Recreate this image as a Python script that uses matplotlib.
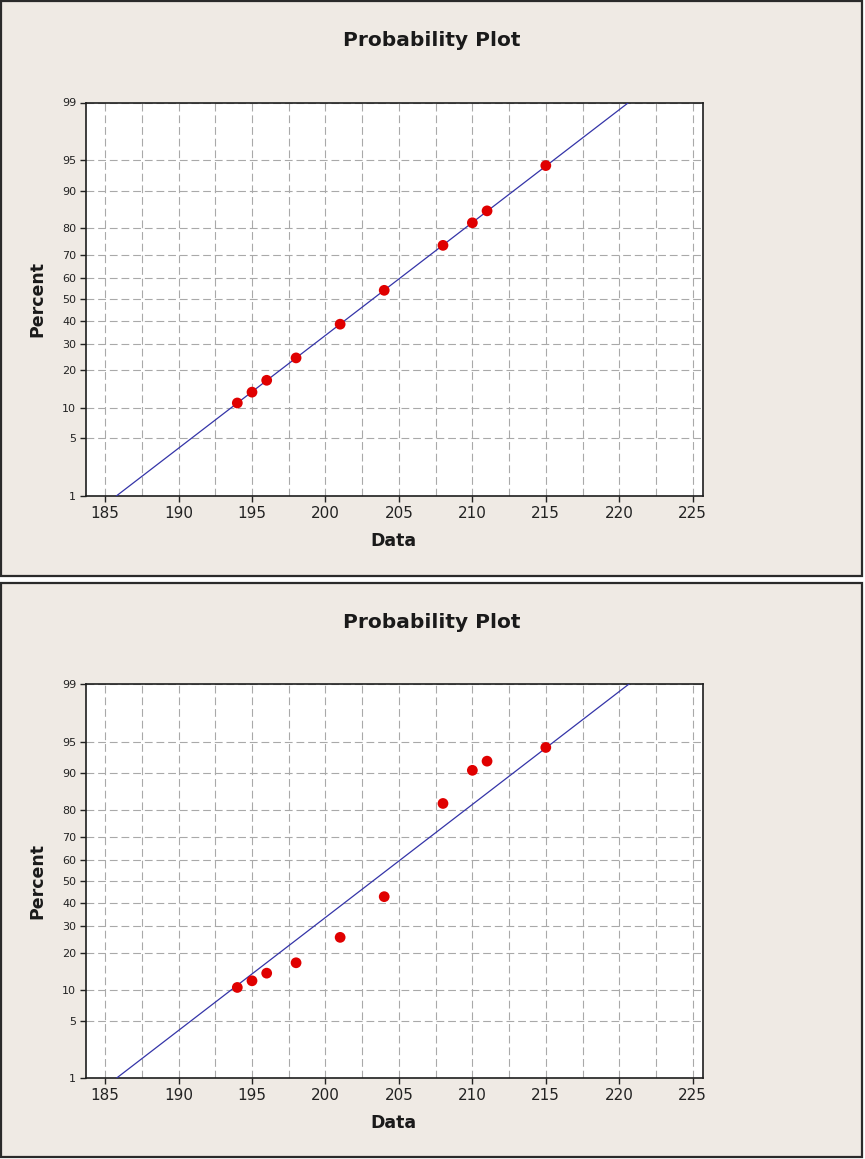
import numpy as np
import matplotlib
matplotlib.use("Agg")
import matplotlib.pyplot as plt
from matplotlib.patches import Rectangle
from matplotlib.ticker import FixedLocator, MultipleLocator
from statistics import NormalDist

# ---- data ----
data_x = [194, 195, 196, 198, 201, 204, 208, 210, 211, 215]
pct_top = [11.0, 13.6, 16.9, 24.4, 38.4, 54.2, 73.8, 81.7, 85.2, 94.3]
pct_bottom = [10.5, 12.0, 13.9, 16.8, 25.4, 42.8, 82.1, 90.5, 92.2, 94.3]
y_ticks = [1, 5, 10, 20, 30, 40, 50, 60, 70, 80, 90, 95, 99]
x_ticks = [185, 190, 195, 200, 205, 210, 215, 220, 225]
title = "Probability Plot"
xlabel = "Data"
ylabel = "Percent"

W, H = 865, 1159
BG = "#EFEAE4"
nd = NormalDist()
_ppf = np.vectorize(nd.inv_cdf, otypes=[float])
_cdf = np.vectorize(nd.cdf, otypes=[float])


def fwd(p):
    p = np.clip(np.asarray(p, dtype=float) / 100.0, 1e-9, 1 - 1e-9)
    return _ppf(p)


def inv(z):
    return _cdf(np.asarray(z, dtype=float)) * 100.0


fig = plt.figure(figsize=(W / 100, H / 100), dpi=100)
fig.patch.set_facecolor("white")


def fx(x):
    return x / W


def fy(y):
    return 1 - y / H


# panel backgrounds with borders
for top, bot in [(0.5, 576.0), (582.5, 1157.0)]:
    fig.patches.append(Rectangle((fx(1), fy(bot)), fx(862) - fx(1), fy(top) - fy(bot),
                                 transform=fig.transFigure, facecolor=BG,
                                 edgecolor="#2a2a2a", linewidth=1.6, zorder=-5))

mu = np.mean(data_x)
sd = np.std(data_x, ddof=1)
zline = fwd([0.3, 99.7])
line_x = mu + sd * zline
line_p = inv(zline)

panels = [(102.5, 496.0, pct_top, 0.0), (684.3, 1078.3, pct_bottom, 582.0)]
for ax_top, ax_bot, pcts, off in panels:
    ax = fig.add_axes([fx(86), fy(ax_bot), fx(703) - fx(86), fy(ax_top) - fy(ax_bot)])
    ax.set_zorder(1)
    ax.set_facecolor("white")
    ax.set_yscale("function", functions=(fwd, inv))
    ax.set_xlim(183.7, 225.7)
    ax.set_ylim(1, 99)
    ax.yaxis.set_major_locator(FixedLocator(y_ticks))
    ax.yaxis.set_minor_locator(FixedLocator([]))
    ax.set_yticklabels([str(t) for t in y_ticks])
    ax.xaxis.set_major_locator(FixedLocator(x_ticks))
    ax.xaxis.set_minor_locator(MultipleLocator(2.5))
    ax.grid(True, which="both", axis="x", color="#A9A9A9", linestyle=(0, (7, 3.5)), linewidth=0.8)
    ax.grid(True, which="major", axis="y", color="#A9A9A9", linestyle=(0, (7, 3.5)), linewidth=0.8)
    ax.set_axisbelow(True)
    ax.tick_params(axis="x", which="major", length=4, width=1, labelsize=11, pad=3, colors="#222222")
    ax.tick_params(axis="x", which="minor", length=0)
    ax.tick_params(axis="y", which="major", length=4, width=1, labelsize=8, pad=3, colors="#222222")
    for s in ax.spines.values():
        s.set_color("#1e1e1e")
        s.set_linewidth(1.2)
    ax.plot(line_x, line_p, color="#3434A8", linewidth=0.9, zorder=3)
    ax.scatter(data_x, pcts, s=60, color="#E00000", edgecolors="none", zorder=4)

    fig.text(fx(432), fy(41 + off), title, ha="center", va="center",
             fontsize=14.5, fontweight="bold", color="#1a1a1a")
    fig.text(fx(393), fy(541 + off), xlabel, ha="center", va="center",
             fontsize=12.5, fontweight="bold", color="#1a1a1a")
    fig.text(fx(37), fy(299 + off), ylabel, ha="center", va="center", rotation=90,
             fontsize=12.5, fontweight="bold", color="#1a1a1a")

fig.savefig("out.png", dpi=100, facecolor=fig.get_facecolor())
